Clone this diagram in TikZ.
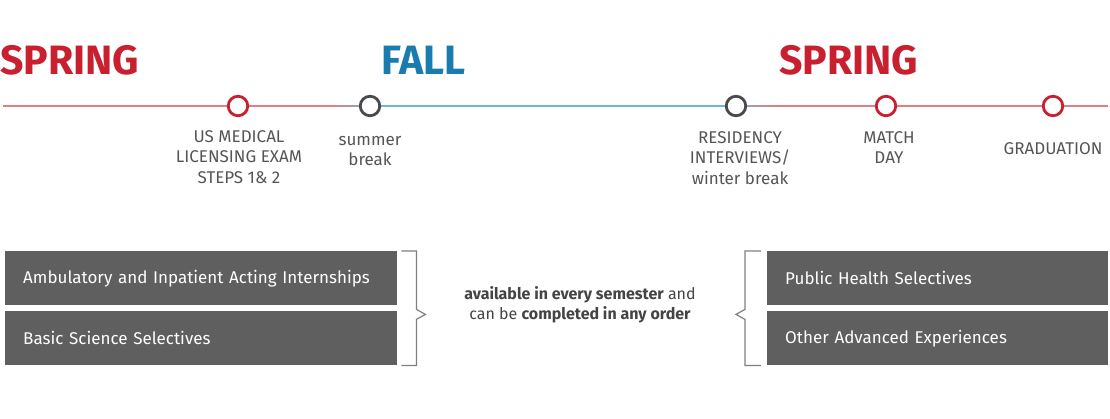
\documentclass[tikz,border=0pt]{standalone}
\usepackage{fontspec}
\setmainfont{Fira Sans}
\usetikzlibrary{positioning, calc}
\definecolor{springred}{HTML}{C8202F}
\definecolor{fallblue}{HTML}{1A7BAF}
\definecolor{linered}{HTML}{E27D84}
\definecolor{lineblue}{HTML}{6DB6D9}
\definecolor{ringgray}{HTML}{4A4A4A}
\definecolor{boxgray}{HTML}{5F5F5F}
\definecolor{textgray}{HTML}{555555}

\begin{document}
\begin{tikzpicture}[x=1pt, y=1pt,
    season/.style={font=\fontsize{41}{41}\selectfont\bfseries, anchor=base west, inner sep=0pt},
    milestone/.style={circle, draw, line width=2.8pt, minimum size=19.5pt, inner sep=0pt, fill=white},
    caption/.style={align=center, font=\fontsize{17}{20.5}\selectfont, text=textgray, anchor=north, inner sep=0pt},
    option/.style={fill=boxgray, text=white, minimum height=54pt, inner xsep=18pt, inner ysep=0pt,
        anchor=north west, align=left, font=\fontsize{17}{20}\selectfont},
    brace/.style={draw=gray, line width=1.2pt}]
  \useasboundingbox (0,0) rectangle (1110,-419);

  % Seasons
  \node[season, text=springred] (spring1) at (0,-75) {SPRING};
  \node[season, text=fallblue] (fall) at (381,-75) {FALL};
  \node[season, text=springred] (spring2) at (779,-75) {SPRING};

  % Timeline
  \coordinate (start) at (3,-106);
  \coordinate (end) at (1108,-106);
  \node[milestone, draw=springred] (usmle) at (238,-106) {};
  \node[milestone, draw=ringgray] (summer) at (370,-106) {};
  \node[milestone, draw=ringgray] (interview) at (736,-106) {};
  \node[milestone, draw=springred] (match) at (886,-106) {};
  \node[milestone, draw=springred] (grad) at (1053,-106) {};

  \draw[linered, line width=1.5pt] (start) -- (usmle);
  \draw[linered, line width=1.5pt] (usmle) -- ($(summer.west)+(-30,0)$);
  \shade[left color=linered, right color=lineblue!60!linered] ($(summer.west)+(-30,0.75)$) rectangle ($(summer.west)+(0,-0.75)$);
  \draw[lineblue, line width=1.5pt] (summer) -- (interview);
  \shade[left color=lineblue!60!linered, right color=linered] ($(interview.east)+(0,0.75)$) rectangle ($(interview.east)+(30,-0.75)$);
  \draw[linered, line width=1.5pt] ($(interview.east)+(30,0)$) -- (match);
  \draw[linered, line width=1.5pt] (match) -- (grad);
  \draw[linered, line width=1.5pt] (grad) -- (end);

  % Captions (first baseline = y - 14.35)
  \node[caption] (usmletext) at (239,-127.6) {\strut US MEDICAL\\LICENSING EXAM\\STEPS 1\& 2};
  \node[caption] (summertext) at (370,-130.6) {\strut summer\\break};
  \node[caption] (interviewtext) at (740,-128.6) {\strut RESIDENCY\\INTERVIEWS/\\winter break};
  \node[caption] (matchtext) at (889,-128.6) {\strut MATCH\\DAY};
  \node[caption] (gradtext) at (1053,-139.6) {\strut GRADUATION};

  % Boxes
  \node[option, text width=356pt] (acting) at (5,-251) {Ambulatory and Inpatient Acting Internships};
  \node[option, text width=356pt] (basic) at (5,-311) {Basic Science Selectives};
  \node[option, text width=305pt] (public) at (767,-251) {Public Health Selectives};
  \node[option, text width=305pt] (other) at (767,-311) {Other Advanced Experiences};

  % Braces
  \draw[brace] ($(acting.north east)+(4,0)$) -- ++(15,0) |- ($(acting.south east)+(19,-4)$) -- ++(9,-5) -- ++(-9,-5) |- ($(basic.south east)+(4,0)$);
  \draw[brace] ($(public.north west)+(-6,0)$) -- ++(-16,0) |- ($(public.south west)+(-22,-4)$) -- ++(-9,-5) -- ++(9,-5) |- ($(other.south west)+(-6,0)$);

  \node[align=center, font=\fontsize{16}{20}\selectfont, text=textgray!80!black] (note) at (580,-305)
    {\textbf{available in every semester} and\\can be \textbf{completed in any order}};
\end{tikzpicture}
\end{document}
